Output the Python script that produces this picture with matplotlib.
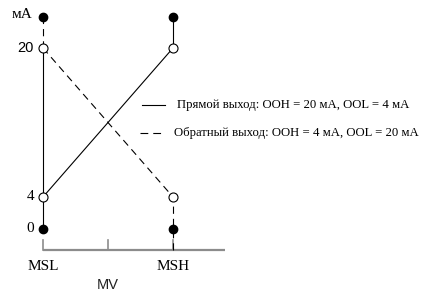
import numpy as np
import matplotlib
matplotlib.use("Agg")
import matplotlib.pyplot as plt
from matplotlib.lines import Line2D

# positions along MV axis: MSL = 0, MSH = 1
mv_ticks = [0.0, 0.5, 1.0]
mv_labels = ["MSL", "", "MSH"]
ma_ticks = [0, 4, 20]
ma_tick_labels = ["0", "4", "20"]
over = 23.3  # level of the filled "overflow" dots above 20 mA

# direct output: OOH = 20 mA, OOL = 4 mA
direct_x = [0.0, 1.0]
direct_y = [4, 20]
# reverse output: OOH = 4 mA, OOL = 20 mA
reverse_x = [0.0, 1.0]
reverse_y = [20, 4]

legend_labels = ["Прямой выход: OOH = 20 мА, OOL = 4 мА",
                 "Обратный выход: OOH = 4 мА, OOL = 20 мА"]

serif = "Liberation Serif"
sans = "Liberation Sans"

# schematic (non-uniform) vertical scale
yv = [-10, 0, 4, 20, 30]
yp = [-80, 0, 32, 181, 274.125]
def fwd(v):
    return np.interp(v, yv, yp)
def inv(p):
    return np.interp(p, yp, yv)

fig = plt.figure(figsize=(4.30, 2.98), dpi=100)
ax = fig.add_axes([0, 0, 1, 1])
ax.set_yscale("function", functions=(fwd, inv))
ax.set_xlim(-43 / 130, (430 - 43) / 130)
ax.set_ylim(inv(-69), inv(229))
ax.axis("off")

lw = 0.8
dash = (0, (6.5, 4.5))
base = inv(-21)
tick_top = inv(-11)

# MV axis
ax.plot([0, 1.4], [base, base], color="#8c8c8c", lw=1.6, solid_capstyle="butt")
for t in mv_ticks:
    ax.plot([t, t], [base, tick_top], color="#8c8c8c", lw=1.2)
for t, lab in zip(mv_ticks, mv_labels):
    ax.text(t, inv(298 - 267 - 69), lab, ha="center", va="center",
            family=serif, fontsize=11)
ax.text(0.5, inv(298 - 285 - 69), "MV", ha="center", va="center",
        family=sans, fontsize=10.5, color="#222222")

# verticals at MSL / MSH
ax.plot([0, 0], [0, 20], color="black", lw=lw)
ax.plot([0, 0], [20, over], color="black", lw=lw, linestyle=dash)
ax.plot([1, 1], [20, over], color="black", lw=lw)
ax.plot([1, 1], [base, 4], color="black", lw=lw, linestyle=dash)

# transfer lines
ax.plot(direct_x, direct_y, color="black", lw=lw, zorder=2)
ax.plot(reverse_x, reverse_y, color="black", lw=lw, linestyle=dash, zorder=2)

# points
ax.plot([0, 1], [0, 0], "o", color="black", ms=6, zorder=4)
ax.plot([0, 1], [over, over], "o", color="black", ms=6, zorder=4)
ax.plot([0, 1, 0, 1], [4, 20, 20, 4], "o", mfc="white", mec="black",
        mew=0.8, ms=6.5, zorder=4)

# mA ticks
for v, lab in zip(ma_ticks, ma_tick_labels):
    fam = sans if lab == "20" else serif
    ax.text(-9 / 130, v, lab, ha="right", va="center", family=fam,
            fontsize=10.5 if lab == "20" else 11)
ax.text(-21 / 130, inv(298 - 14 - 69), "мА", ha="center", va="center",
        family=serif, fontsize=11)

# legend
def px(x, y):
    return x / 430, 1 - y / 298
for (y, ls, x0, x1, tx), lab in zip([(105, "-", 142, 165, 177),
                                     (133, (0, (7, 4.5)), 140, 165, 174)],
                                    legend_labels):
    a, b = px(x0, y)
    c, _ = px(x1, y)
    fig.add_artist(Line2D([a, c], [b, b], color="black", lw=lw, linestyle=ls))
    tx0, ty0 = px(tx, y)
    fig.text(tx0, ty0, lab, ha="left", va="center", family=serif, fontsize=9.2)

fig.savefig("out.png", dpi=100)
